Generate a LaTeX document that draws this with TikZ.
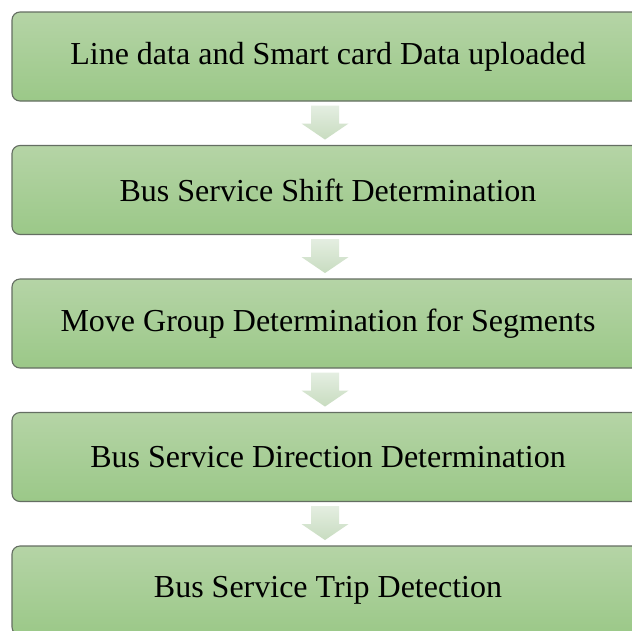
\documentclass[tikz,border=0pt]{standalone}
\usepackage{fontspec}
\setmainfont{Liberation Serif}
\usetikzlibrary{calc}
\definecolor{boxtop}{HTML}{B5D4A6}
\definecolor{boxbot}{HTML}{9BC888}
\definecolor{boxedge}{HTML}{646E62}
\definecolor{arrtop}{HTML}{E4EEE1}
\definecolor{arrbot}{HTML}{C8DCC0}
\tikzset{
  stage/.style={rectangle, rounded corners=8pt, draw=boxedge, line width=1.1pt,
    top color=boxtop, bottom color=boxbot, minimum width=632pt, minimum height=89pt,
    inner sep=0pt, font=\fontsize{32}{38}\selectfont},
  flowarrow/.style={top color=arrtop, bottom color=arrbot, draw=none}
}
\newcommand{\downarrowfrom}[1]{%
  \path[flowarrow] ($(#1)+(-14pt,-4pt)$) -- ($(#1)+(14pt,-4pt)$) -- ($(#1)+(14pt,-22pt)$)
    -- ($(#1)+(23.5pt,-22pt)$) -- ($(#1)+(0pt,-38pt)$) -- ($(#1)+(-23.5pt,-22pt)$)
    -- ($(#1)+(-14pt,-22pt)$) -- cycle;}
\begin{document}
\begin{tikzpicture}[x=1pt,y=1pt]
\clip (0,0) rectangle (632,-630);
\fill[white] (0,0) rectangle (632,-630);
\node[stage] (b1) at (328,-56.5) {Line data and Smart card Data uploaded};
\node[stage] (b2) at (328,-190) {Bus Service Shift Determination};
\node[stage] (b3) at (328,-323.5) {Move Group Determination for Segments};
\node[stage] (b4) at (328,-457) {Bus Service Direction Determination};
\node[stage] (b5) at (328,-590.5) {Bus Service Trip Detection};
\coordinate (a1) at ($(b1.south)+(-3pt,0)$);
\coordinate (a2) at ($(b2.south)+(-3pt,0)$);
\coordinate (a3) at ($(b3.south)+(-3pt,0)$);
\coordinate (a4) at ($(b4.south)+(-3pt,0)$);
\downarrowfrom{a1}
\downarrowfrom{a2}
\downarrowfrom{a3}
\downarrowfrom{a4}
\end{tikzpicture}
\end{document}
